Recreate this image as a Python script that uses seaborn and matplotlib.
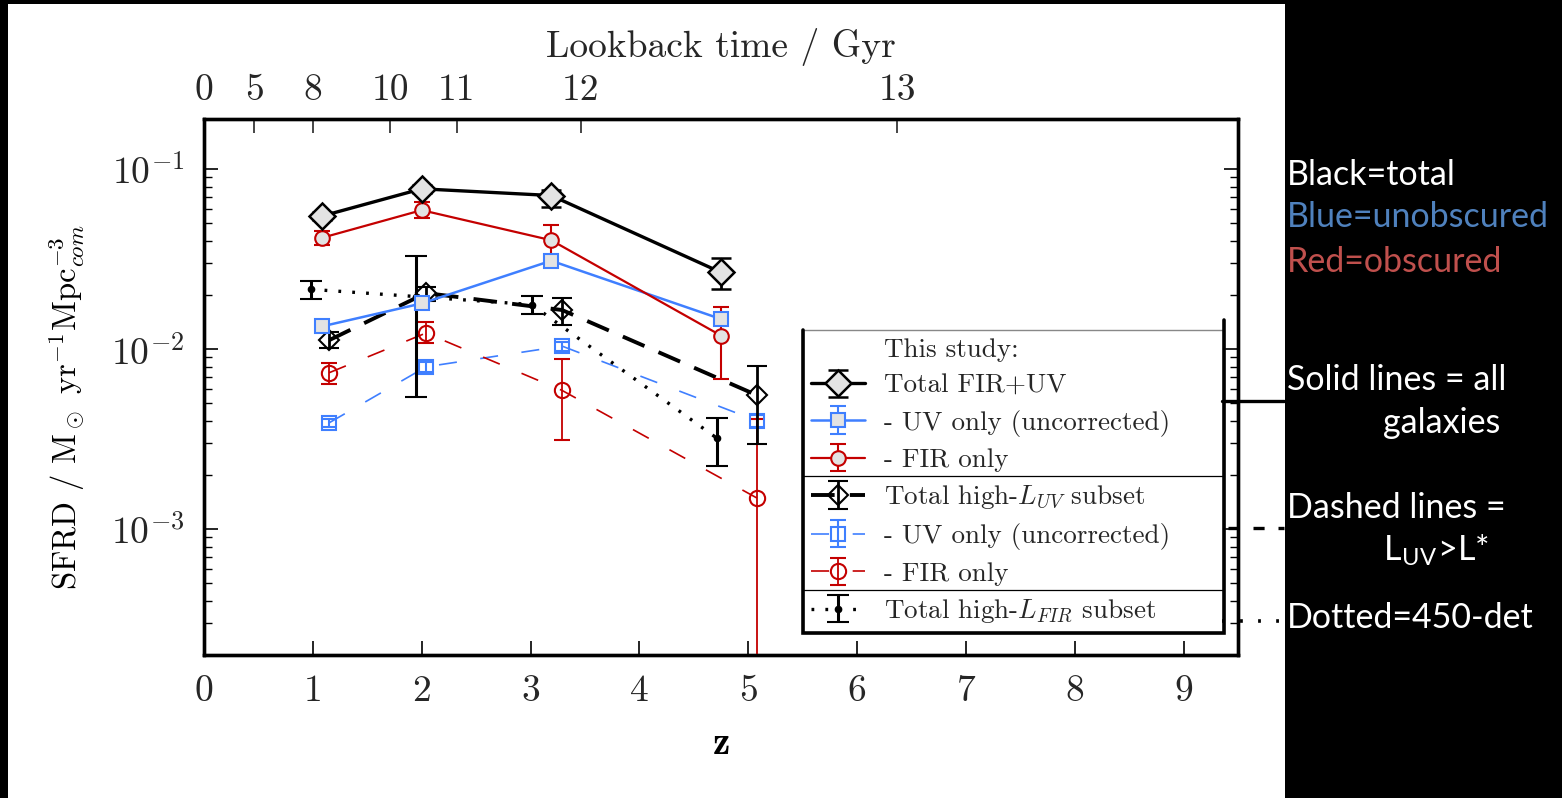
import numpy as np
import matplotlib
matplotlib.use("Agg")
import matplotlib.pyplot as plt
from matplotlib.lines import Line2D
from matplotlib.patches import Rectangle
from matplotlib.ticker import FixedLocator, LogLocator, NullFormatter
import seaborn as sns

sns.set_theme(style="ticks")
plt.rcParams['font.family'] = ['cmr10', 'DejaVu Serif']
plt.rcParams['mathtext.fontset'] = 'cm'
plt.rcParams['axes.formatter.use_mathtext'] = True
plt.rcParams['axes.unicode_minus'] = False
plt.rcParams['lines.scale_dashes'] = False

# --- data (SFRD in Msun/yr/Mpc^3) ---
# all galaxies
z_all = [1.08, 2.00, 3.19, 4.75]
tot_y = [0.0548, 0.0778, 0.0714, 0.0267]
tot_lo = [0.0520, 0.0740, 0.0620, 0.0215]
tot_hi = [0.0575, 0.0820, 0.0765, 0.0321]
uv_y = [0.01337, 0.01795, 0.0310, 0.0147]
uv_lo = [0.0127, 0.0171, 0.0296, 0.0140]
uv_hi = [0.0141, 0.0189, 0.0325, 0.0155]
fir_y = [0.0415, 0.0592, 0.0403, 0.0119]
fir_lo = [0.0379, 0.0534, 0.0310, 0.0068]
fir_hi = [0.0451, 0.0653, 0.0489, 0.0171]

# high-L_UV subset
z_luv = [1.15, 2.04, 3.29, 5.08]
luv_tot_y = [0.01122, 0.0205, 0.0165, 0.00555]
luv_tot_lo = [0.0102, 0.0185, 0.0136, 0.00296]
luv_tot_hi = [0.0124, 0.0222, 0.0192, 0.00807]
luv_uv_y = [0.0039, 0.00798, 0.0104, 0.0040]
luv_uv_lo = [0.0037, 0.0075, 0.0098, 0.0037]
luv_uv_hi = [0.0041, 0.0085, 0.0110, 0.0043]
luv_fir_y = [0.0074, 0.0123, 0.0059, 0.00149]
luv_fir_lo = [0.00637, 0.01084, 0.00312, 1e-6]
luv_fir_hi = [0.00843, 0.0141, 0.00877, 0.0041]

# high-L_FIR (450um detected) subset
z_lfir = [0.98, 1.95, 3.01, 4.71]
lfir_y = [0.0215, 0.0196, 0.0177, 0.00321]
lfir_lo = [0.0190, 0.0054, 0.0156, 0.00225]
lfir_hi = [0.0238, 0.0330, 0.01987, 0.00417]

xticks = [0, 1, 2, 3, 4, 5, 6, 7, 8, 9]
ytick_vals = [1e-3, 1e-2, 1e-1]
ytick_labels = [r'$10^{-3}$', r'$10^{-2}$', r'$10^{-1}$']
lookback_labels = ['0', '5', '8', '10', '11', '12', '13']
lookback_z = [0.0, 0.46, 1.00, 1.71, 2.32, 3.46, 6.37]

BLUE = '#3f7fff'
RED = '#c40000'
GREY = '#e3e3e3'

W, H = 1562, 798
fig = plt.figure(figsize=(W / 100, H / 100), dpi=100, facecolor='black')
fig.add_artist(Rectangle((8 / W, 0), (1285 - 8) / W, (H - 4) / H,
                         transform=fig.transFigure, facecolor='white',
                         edgecolor='none', zorder=-10))
ax = fig.add_axes([204 / W, 1 - 655 / H, (1238 - 204) / W, (655 - 119) / H])
ax.set_facecolor('white')


def series(z, y, lo, hi, color, mfc, marker, ms, lw, elw, cs, label,
           dashes=None, mew=1.5, zo=3):
    y = np.array(y)
    yerr = [y - np.array(lo), np.array(hi) - y]
    eb = ax.errorbar(z, y, yerr=yerr, color=color, marker=marker, ms=ms,
                     mfc=mfc, mec=color, mew=mew, lw=lw, elinewidth=elw,
                     capsize=cs, capthick=elw, label=label, zorder=zo)
    if dashes is not None:
        eb[0].set_dashes(dashes)
    return eb


h1 = series(z_all, tot_y, tot_lo, tot_hi, 'black', GREY, 'D', 13.5, 2.4, 2.0, 7,
            'Total FIR+UV', mew=1.8, zo=6)
h2 = series(z_all, uv_y, uv_lo, uv_hi, BLUE, GREY, 's', 10.5, 1.8, 1.5, 5.5,
            '- UV only (uncorrected)', zo=5)
h3 = series(z_all, fir_y, fir_lo, fir_hi, RED, GREY, 'o', 10.5, 1.6, 1.5, 5.5,
            '- FIR only', zo=5)
h4 = series(z_luv, luv_tot_y, luv_tot_lo, luv_tot_hi, 'black', 'none', 'D', 10.5,
            2.8, 2.0, 7, r'Total high-$L_{UV}$ subset', dashes=(17, 11), zo=4)
h5 = series(z_luv, luv_uv_y, luv_uv_lo, luv_uv_hi, BLUE, 'none', 's', 10.5,
            1.2, 1.5, 5.5, '- UV only (uncorrected)', dashes=(13, 17), zo=3)
h6 = series(z_luv, luv_fir_y, luv_fir_lo, luv_fir_hi, RED, 'none', 'o', 11,
            1.2, 1.3, 5.5, '- FIR only', dashes=(13, 17), zo=3)
h7 = series(z_lfir, lfir_y, lfir_lo, lfir_hi, 'black', 'black', '.', 8,
            2.4, 2.2, 8, r'Total high-$L_{FIR}$ subset', dashes=(2, 8), zo=4)

ax.set_xlim(0, 9.5)
ax.set_yscale('log')
ax.set_ylim(2e-4, 0.19)
ax.set_xticks(xticks)
ax.set_xticklabels([str(t) for t in xticks])
ax.yaxis.set_major_locator(FixedLocator(ytick_vals))
ax.set_yticklabels(ytick_labels)
ax.yaxis.set_minor_locator(LogLocator(base=10, subs=np.arange(2, 10)))
ax.yaxis.set_minor_formatter(NullFormatter())
ax.tick_params(which='both', direction='in', right=True, top=False, color='black')
ax.tick_params(which='major', length=10, width=1.2, labelsize=27, pad=14)
ax.tick_params(which='minor', length=6, width=1.0)
ax.tick_params(axis='x', which='minor', bottom=False)
ax.set_xlabel(r'$\mathbf{z}$', fontsize=28, labelpad=13, color='black')
ax.set_ylabel(r'SFRD / M$_\odot$ yr$^{-1}$Mpc$^{-3}_{com}$', fontsize=23.5,
              color='black')
ax.yaxis.set_label_coords(-0.113, 0.463)
for s in ax.spines.values():
    s.set_linewidth(2.4)
    s.set_color('black')

ax2 = ax.twiny()
ax2.set_xlim(ax.get_xlim())
ax2.set_xticks(lookback_z)
ax2.set_xticklabels(lookback_labels)
ax2.tick_params(direction='in', length=10, width=1.2, labelsize=27, pad=9)
ax2.set_xlabel('Lookback time / Gyr', fontsize=27, labelpad=12)
for s in ax2.spines.values():
    s.set_linewidth(2.4)
    s.set_color('black')

blank = Line2D([], [], ls='none')
leg = ax.legend([blank, h1, h2, h3, h4, h5, h6, h7],
                ['This study:', 'Total FIR+UV', '- UV only (uncorrected)', '- FIR only',
                 r'Total high-$L_{UV}$ subset', '- UV only (uncorrected)', '- FIR only',
                 r'Total high-$L_{FIR}$ subset'],
                loc='upper left', bbox_to_anchor=(0.579, 0.0, 0.407, 0.606),
                mode='expand', fontsize=19.5,
                frameon=True, fancybox=False, edgecolor='#888888', framealpha=1,
                handlelength=2.0, handletextpad=0.7, labelspacing=0.43,
                borderpad=0.3, borderaxespad=0)
leg.get_frame().set_linewidth(1.0)
leg.set_zorder(10)

fig.canvas.draw()
bb = leg.get_window_extent()
texts = leg.get_texts()


def fline(xs, ys, **kw):
    fig.add_artist(Line2D([x / W for x in xs], [y / H for y in ys],
                          transform=fig.transFigure, color='black', **kw))


# separators between groups in the legend
for i in (3, 6):
    a = texts[i].get_window_extent()
    b = texts[i + 1].get_window_extent()
    ym = (a.y0 + b.y1) / 2 + 2
    fline([bb.x0, bb.x1], [ym, ym], lw=0.9, zorder=12)
# heavy left / bottom / right frame edges
fline([bb.x0, bb.x0, bb.x1, bb.x1], [bb.y1, bb.y0, bb.y0, bb.y1 + 10],
      lw=2.6, zorder=12, solid_joinstyle='miter')

# pointer lines out to the notes on the right
fline([1222, 1284], [H - 401, H - 401], lw=2.4, zorder=12)
fline([1228, 1284], [H - 528, H - 528], lw=2.4, dashes=(8, 10), zorder=12)
fline([1222, 1284], [H - 621, H - 621], lw=2.6, dashes=(2, 11), zorder=12)

notes = [('Black=total', 'white', 1287, 175),
         ('Blue=unobscured', '#4f81bd', 1287, 217),
         ('Red=obscured', '#c0504d', 1287, 262),
         ('Solid lines = all', 'white', 1287, 380),
         ('galaxies', 'white', 1383, 423),
         ('Dashed lines =', 'white', 1287, 508),
         (r'L$_\mathregular{UV}$>L*', 'white', 1383, 550),
         ('Dotted=450-det', 'white', 1287, 618)]
for txt, col, px, py in notes:
    fig.text(px / W, 1 - py / H, txt, color=col, fontsize=24.5, family='Lato',
             ha='left', va='center')

fig.savefig('out.png', dpi=100, facecolor=fig.get_facecolor())
